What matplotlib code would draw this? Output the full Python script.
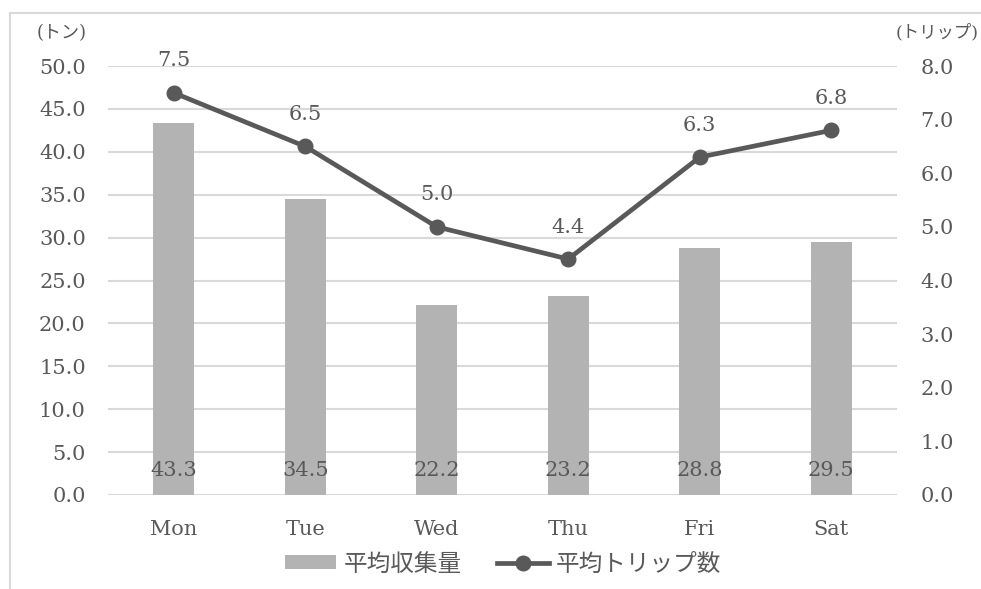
import matplotlib
matplotlib.use("Agg")
import numpy as np
from matplotlib import pyplot as plt
from matplotlib.patches import Rectangle

days = ["Mon", "Tue", "Wed", "Thu", "Fri", "Sat"]
collected = [43.3, 34.5, 22.2, 23.2, 28.8, 29.5]   # 平均収集量 (トン)
trips = [7.5, 6.5, 5.0, 4.4, 6.3, 6.8]              # 平均トリップ数

left_ticks = np.arange(0, 50.1, 5)
right_ticks = np.arange(0, 8.1, 1)

txt = "#595959"
fonts = ["DejaVu Serif", "Noto Sans CJK JP"]
plt.rcParams["font.family"] = fonts
fs = 15

fig = plt.figure(figsize=(9.81, 5.89), dpi=100)
ax = fig.add_axes([108 / 981, 1 - 495 / 589, (897 - 108) / 981, (495 - 66) / 589])
ax2 = ax.twinx()

x = np.arange(len(days))
bars = ax.bar(x, collected, width=0.31, color="#b3b3b3", zorder=2, label="平均収集量")
for xi, v in zip(x, collected):
    ax.text(xi, 2.9, f"{v:.1f}", ha="center", va="center", fontsize=fs, color=txt, zorder=3)

ax.set_ylim(0, 50)
ax.set_xlim(-0.5, len(days) - 0.5)
ax.set_yticks(left_ticks)
ax.set_yticklabels([f"{t:.1f}" for t in left_ticks])
ax.set_xticks(x)
ax.set_xticklabels(days)
ax.grid(axis="y", color="#d9d9d9", linewidth=1.5, zorder=0)
ax.set_axisbelow(True)

line, = ax2.plot(x, trips, color="#595959", linewidth=3.4, marker="o", markersize=10.5,
                 zorder=4, label="平均トリップ数")
for xi, v in zip(x, trips):
    ax2.annotate(f"{v:.1f}", (xi, v), textcoords="offset points", xytext=(0, 23),
                 ha="center", va="center", fontsize=fs, color=txt)
ax2.set_ylim(0, 8)
ax2.set_yticks(right_ticks)
ax2.set_yticklabels([f"{t:.1f}" for t in right_ticks])

for a in (ax, ax2):
    for s in a.spines.values():
        s.set_visible(False)
    a.tick_params(length=0, labelsize=fs, labelcolor=txt)
ax.tick_params(axis="y", pad=16)
ax.tick_params(axis="x", pad=18)
ax2.tick_params(axis="y", pad=17)

fig.text(37 / 981, 1 - 33 / 589, "(トン)", fontsize=13, color=txt, ha="left", va="center")
fig.text(979 / 981, 1 - 33 / 589, "(トリップ)", fontsize=12.5, color=txt, ha="right", va="center")

fig.legend(handles=[bars, line], loc="center", bbox_to_anchor=(503 / 981, 1 - 564 / 589),
           ncol=2, frameon=False, fontsize=17, labelcolor=txt, handlelength=2.2,
           handleheight=0.5, handletextpad=0.3, columnspacing=1.5, borderpad=0)

# light frame around the chart
fig.patches.append(Rectangle((10 / 981, -0.1), 1.2, 1.1 - 13 / 589, transform=fig.transFigure,
                             fill=False, edgecolor="#d9d9d9", linewidth=1.5))

fig.savefig("out.png", dpi=100)
